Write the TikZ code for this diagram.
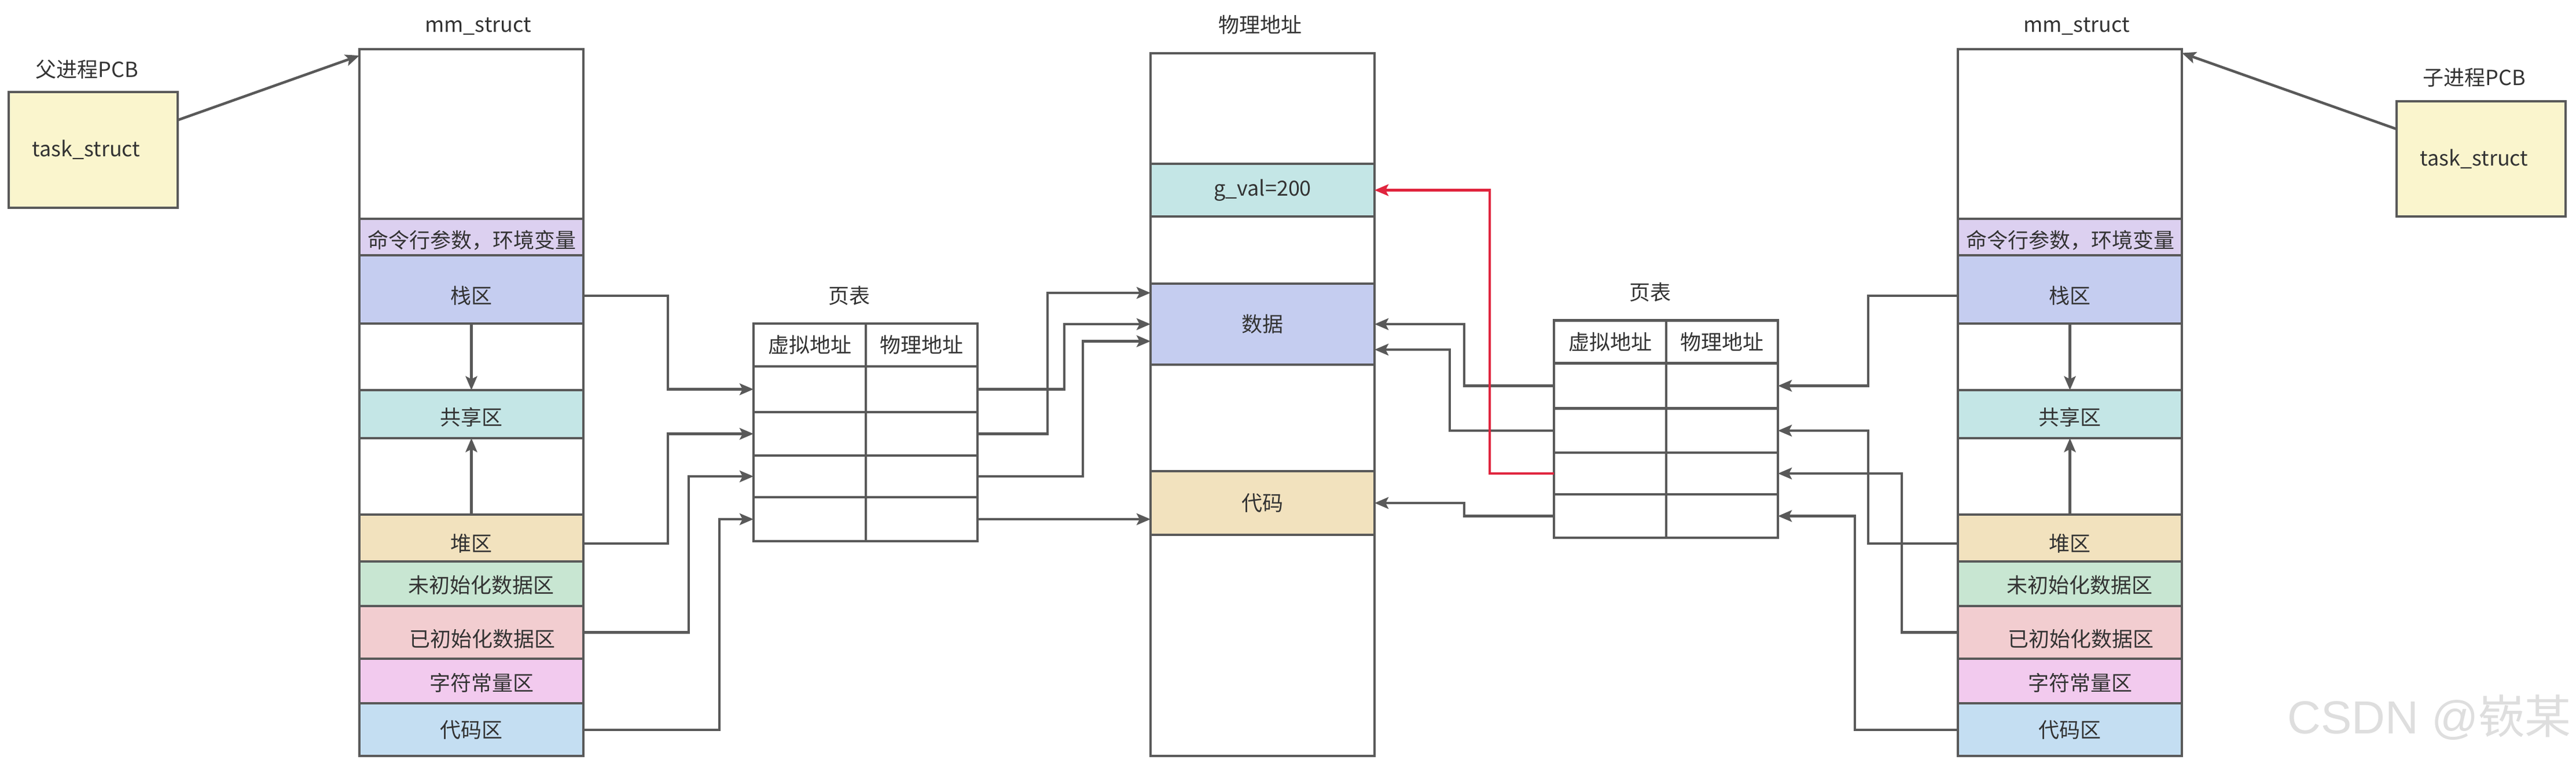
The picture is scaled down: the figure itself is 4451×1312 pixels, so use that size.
\documentclass[tikz,border=0pt]{standalone}
\usepackage{fontspec}
\setmainfont{Noto Sans CJK SC}
\newfontfamily\wmfont{Liberation Sans}
\usetikzlibrary{arrows.meta}
\definecolor{cLine}{HTML}{595959}
\definecolor{cTxt}{HTML}{333333}
\definecolor{cRed}{HTML}{E0253E}
\definecolor{cPcb}{HTML}{FAF5CD}
\definecolor{cCmd}{HTML}{DCD0F0}
\definecolor{cStack}{HTML}{C5CDF0}
\definecolor{cShared}{HTML}{C4E6E6}
\definecolor{cHeap}{HTML}{F2E2BE}
\definecolor{cBss}{HTML}{C8E6D2}
\definecolor{cDataSeg}{HTML}{F2CDD0}
\definecolor{cRo}{HTML}{F2CAEE}
\definecolor{cCode}{HTML}{C4DEF2}
\definecolor{cWm}{HTML}{DEDEDE}
\tikzset{
  regbox/.style={draw=cLine, line width=4.5pt, fill=white, inner sep=0pt, outer sep=0pt,
    minimum width=387pt, text=cTxt},
  tcell/.style={draw=cLine, line width=4.5pt, fill=white, inner sep=0pt, outer sep=0pt,
    minimum width=194pt, text=cTxt},
  lbl/.style={inner sep=0pt, outer sep=0pt, text=cTxt},
  conn/.style={draw=cLine, line width=4.5pt, -{Stealth[length=24pt,width=20pt,inset=5pt]}},
}
\newcommand\MemMap[2]{%
  \node[regbox, minimum height=1221pt] (#1mm) at ({#2+193.5},695.5) {};
  \node[regbox, fill=cCmd, minimum height=63pt] (#1cmd) at ({#2+193.5},409.5) {};
  \node[regbox, fill=cStack, minimum height=118pt] (#1stack) at ({#2+193.5},500) {};
  \node[regbox, fill=cShared, minimum height=83pt] (#1shared) at ({#2+193.5},715.5) {};
  \node[regbox, fill=cHeap, minimum height=81pt] (#1heap) at ({#2+193.5},929.5) {};
  \node[regbox, fill=cBss, minimum height=77pt] (#1bss) at ({#2+193.5},1008.5) {};
  \node[regbox, fill=cDataSeg, minimum height=91pt] (#1data) at ({#2+193.5},1092.5) {};
  \node[regbox, fill=cRo, minimum height=77pt] (#1ro) at ({#2+193.5},1176.5) {};
  \node[regbox, fill=cCode, minimum height=91pt] (#1text) at ({#2+193.5},1260.5) {};
  \node[lbl] (#1t-title) at ({#2+205},45) {mm\_struct};
  \node[lbl] (#1t-cmd) at ({#2+194},414.6) {命令行参数，环境变量};
  \node[lbl] (#1t-stack) at ({#2+193},511) {栈区};
  \node[lbl] (#1t-shared) at ({#2+193},721) {共享区};
  \node[lbl] (#1t-heap) at ({#2+193},939) {堆区};
  \node[lbl] (#1t-bss) at ({#2+210},1011) {未初始化数据区};
  \node[lbl] (#1t-data) at ({#2+212},1104) {已初始化数据区};
  \node[lbl] (#1t-ro) at ({#2+211},1180) {字符常量区};
  \node[lbl] (#1t-text) at ({#2+193},1261) {代码区};
  \draw[conn] (#1stack.south) -- (#1shared.north);
  \draw[conn] (#1heap.north) -- (#1shared.south);
}
\begin{document}
\begin{tikzpicture}[x=1pt,y=-1pt,font=\fontsize{36pt}{40pt}\selectfont]
\fill[white] (0,0) rectangle (4451,1312);
\useasboundingbox (0,0) rectangle (4451,1312);

% PCBs
\node[regbox, fill=cPcb, minimum width=292pt, minimum height=200pt] (lpcb) at (161,259) {};
\node[lbl] (lpcb-t) at (149,259) {task\_struct};
\node[lbl] (lpcb-title) at (150,120) {父进程PCB};
\node[regbox, fill=cPcb, minimum width=292pt, minimum height=199pt] (rpcb) at (4287,274.5) {};
\node[lbl] (rpcb-t) at (4275,275) {task\_struct};
\node[lbl] (rpcb-title) at (4275,134) {子进程PCB};

% virtual memory maps
\MemMap{l}{621}
\MemMap{r}{3383}

% physical memory
\node[lbl] (ptitle) at (2177,43) {物理地址};
\node[regbox, minimum height=1214pt] (phys) at (2181.5,699) {};
\node[regbox, fill=cShared, minimum height=91pt] (pgval) at (2181.5,328.5) {g\_val=200};
\node[regbox, fill=cStack, minimum height=140pt] (pdata) at (2181.5,560) {数据};
\node[regbox, fill=cHeap, minimum height=110pt] (pcode) at (2181.5,869) {代码};

% left page table
\node[lbl] (ltab-title) at (1467.5,511) {页表};
\node[tcell, minimum height=74pt] (lvh) at (1399,596) {虚拟地址};
\node[tcell, minimum width=193pt, minimum height=74pt] (lph) at (1592.5,596) {物理地址};
\node[tcell, minimum height=79pt] (lv1) at (1399,672.5) {};
\node[tcell, minimum width=193pt, minimum height=79pt] (lp1) at (1592.5,672.5) {};
\node[tcell, minimum height=75pt] (lv2) at (1399,749.5) {};
\node[tcell, minimum width=193pt, minimum height=75pt] (lp2) at (1592.5,749.5) {};
\node[tcell, minimum height=72pt] (lv3) at (1399,823) {};
\node[tcell, minimum width=193pt, minimum height=72pt] (lp3) at (1592.5,823) {};
\node[tcell, minimum height=76pt] (lv4) at (1399,897) {};
\node[tcell, minimum width=193pt, minimum height=76pt] (lp4) at (1592.5,897) {};

% right page table
\node[lbl] (rtab-title) at (2851.5,505) {页表};
\node[tcell, minimum height=74pt] (rvh) at (2782,590.5) {虚拟地址};
\node[tcell, minimum width=193pt, minimum height=74pt] (rph) at (2975.5,590.5) {物理地址};
\node[tcell, minimum height=78pt] (rv1) at (2782,666.5) {};
\node[tcell, minimum width=193pt, minimum height=78pt] (rp1) at (2975.5,666.5) {};
\node[tcell, minimum height=76pt] (rv2) at (2782,744) {};
\node[tcell, minimum width=193pt, minimum height=76pt] (rp2) at (2975.5,744) {};
\node[tcell, minimum height=72pt] (rv3) at (2782,818) {};
\node[tcell, minimum width=193pt, minimum height=72pt] (rp3) at (2975.5,818) {};
\node[tcell, minimum height=75pt] (rv4) at (2782,891.5) {};
\node[tcell, minimum width=193pt, minimum height=75pt] (rp4) at (2975.5,891.5) {};

% PCB -> mm_struct
\draw[conn] ([yshift=51.5pt]lpcb.east) -- ([yshift=-11pt]lmm.north west);
\draw[conn] ([yshift=51.5pt]rpcb.west) -- ([yshift=-6.5pt]rmm.north east);

% left mm -> left page table
\draw[conn] (lstack.east |- lt-stack) -- ++(146,0) |- (lv1.west);
\draw[conn] (lheap.east |- lt-heap) -- ++(146,0) |- (lv2.west);
\draw[conn] (ldata.east) -- ++(182,0) |- (lv3.west);
\draw[conn] (ltext.east |- lt-text) -- ++(235,0) |- (lv4.west);

% left page table -> physical
\draw[conn] (lp1.east) -- ++(150,0) |- (pdata.west);
\draw[conn] (lp2.east) -- ++(121,0) |- ([yshift=-16pt]pdata.north west);
\draw[conn] (lp3.east) -- ++(182,0) |- ([yshift=-29.5pt]pdata.west);
\draw[conn] (lp4.east) -- (lp4.east -| pcode.west);

% right mm -> right page table
\draw[conn] (rstack.west |- rt-stack) -- ++(-155,0) |- (rp1.east);
\draw[conn] (rheap.west |- rt-heap) -- ++(-155,0) |- (rp2.east);
\draw[conn] (rdata.west) -- ++(-97,0) |- (rp3.east);
\draw[conn] (rtext.west |- rt-text) -- ++(-178,0) |- (rp4.east);

% right page table -> physical
\draw[conn] (rv1.west) -- ++(-155,0) |- (pdata.east);
\draw[conn] (rv2.west) -- ++(-180,0) |- ([yshift=-44pt]pdata.east);
\draw[conn] (rv4.west) -- ++(-155,0) |- (pcode.east);
\draw[conn, draw=cRed] (rv3.west) -- ++(-111,0) |- (pgval.east);

% watermark
\node[anchor=base east, inner sep=0pt, text=cWm, font=\fontsize{80pt}{84pt}\selectfont] (wm) at (4443,1267) {{\wmfont CSDN @}嵚某};
\end{tikzpicture}
\end{document}
